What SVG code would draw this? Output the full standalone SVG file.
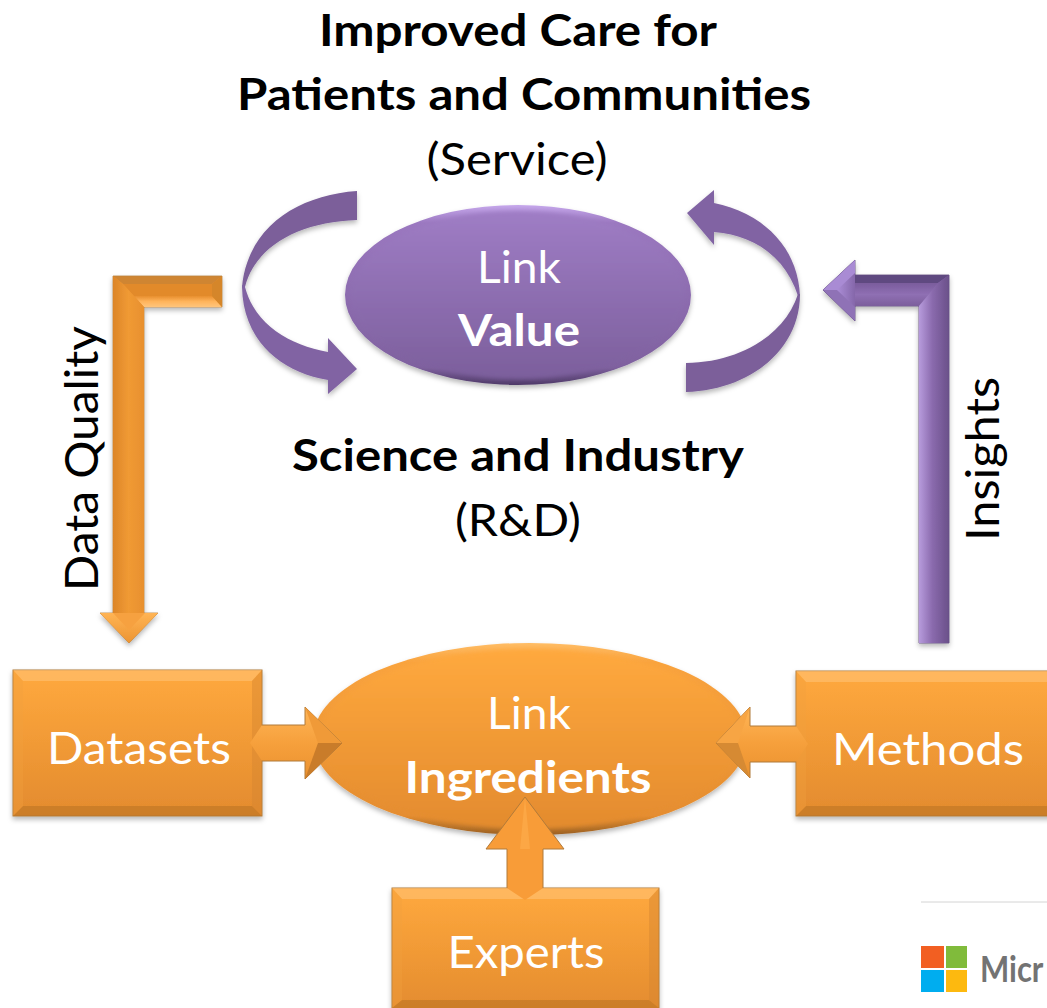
<svg xmlns="http://www.w3.org/2000/svg" width="1047" height="1008" viewBox="0 0 1047 1008">
<defs>
<linearGradient id="og" x1="0" y1="0" x2="0" y2="1"><stop offset="0" stop-color="#ffa93e"/><stop offset="1" stop-color="#e38b2e"/></linearGradient>
<linearGradient id="ogE" x1="0" y1="0" x2="0" y2="1"><stop offset="0" stop-color="#ffbd66"/><stop offset="0.1" stop-color="#f9a33e"/><stop offset="0.9" stop-color="#e58d30"/><stop offset="1" stop-color="#9a6024"/></linearGradient>
<linearGradient id="ogD" x1="0" y1="0" x2="1" y2="0"><stop offset="0" stop-color="#dc8528"/><stop offset="0.5" stop-color="#f09a34"/><stop offset="1" stop-color="#e8902e"/></linearGradient>
<linearGradient id="ogH" x1="0" y1="0" x2="0" y2="1"><stop offset="0" stop-color="#e88f2f"/><stop offset="0.5" stop-color="#ffb45c"/><stop offset="1" stop-color="#ffc57c"/></linearGradient>
<linearGradient id="ogA" x1="0" y1="0" x2="0" y2="1"><stop offset="0" stop-color="#ffb454"/><stop offset="1" stop-color="#ec9432"/></linearGradient>
<linearGradient id="ogS" x1="0" y1="0" x2="0" y2="1"><stop offset="0" stop-color="#ffb658"/><stop offset=".5" stop-color="#f6a03c"/><stop offset="1" stop-color="#ea912f"/></linearGradient>
<linearGradient id="pu" x1="0" y1="0" x2="0" y2="1"><stop offset="0" stop-color="#9f7dc5"/><stop offset="1" stop-color="#7c5f9c"/></linearGradient>
<linearGradient id="puE" x1="0" y1="0" x2="0" y2="1"><stop offset="0" stop-color="#c6a8ec"/><stop offset="0.1" stop-color="#9b78c0"/><stop offset="0.9" stop-color="#7f619f"/><stop offset="1" stop-color="#4f3a68"/></linearGradient>
<linearGradient id="puV" x1="0" y1="0" x2="1" y2="0"><stop offset="0" stop-color="#b79bdc"/><stop offset="0.45" stop-color="#8a6aad"/><stop offset="1" stop-color="#6a5089"/></linearGradient>
<linearGradient id="puH" x1="0" y1="0" x2="0" y2="1"><stop offset="0" stop-color="#7a5c9c"/><stop offset="0.5" stop-color="#8f6fb3"/><stop offset="1" stop-color="#7c5f9c"/></linearGradient>
<linearGradient id="puA" x1="0" y1="0" x2="1" y2="0"><stop offset="0" stop-color="#ab8dd6"/><stop offset="1" stop-color="#8567aa"/></linearGradient>
<filter id="sh" x="-20%" y="-20%" width="140%" height="140%"><feDropShadow dx="0" dy="3" stdDeviation="2.5" flood-color="#000" flood-opacity="0.28"/></filter>
<filter id="bl" x="-10%" y="-10%" width="120%" height="120%"><feGaussianBlur stdDeviation="2"/></filter>
</defs>
<style>
text{font-family:"Lato","Carlito","Liberation Sans",sans-serif}
.k{fill:#000;font-size:44px;text-anchor:middle}
.r{font-size:46px}
.b{font-weight:700}
.w{fill:#fff;font-size:44px;text-anchor:middle}
.ob{stroke:#b07a3a;stroke-width:1}
.lt{fill:#ffc275;opacity:.6}
.dk{fill:#b87225;opacity:.55}
.sr{fill:#d58530;opacity:.45}
.sd{fill:#f0a040;opacity:.35}
</style>

<g id="connectors">
<g id="ribbon-left" filter="url(#sh)">
<path d="M357 191C300 195 248 225 242 287C243 289 244 291 245 287C256 245 300 222 357 220Z" fill="#7b5f9a"/>
<path d="M242 287C243 340 280 372 328 380V394L357 369L328 338V352C290 345 255 325 245 287C244 284 242 284 242 287Z" fill="#8164a3"/>
</g>
<g id="ribbon-right" filter="url(#sh)">
<path d="M687 213L714 190V203C760 212 798 245 800 296L798 296C786 258 755 235 714 232V245Z" fill="#8164a3"/>
<path d="M798 294L800 294C800 350 750 390 686 392V363C740 362 785 335 798 294Z" fill="#7b5f9a"/>
</g>
<g id="arrow-data-quality" filter="url(#sh)">
<path d="M113 276H222V307H144V613H158L129 643L100 613H113Z" fill="#e9912f" stroke="#b58040" stroke-width=".8"/>
<path d="M113 276H222L212 284H123Z" fill="#c58234" opacity=".75"/>
<path d="M144 307H222L212 296H134Z" fill="url(#ogH)"/>
<path d="M134 296H212L212 284H123Z" fill="#e28a2c"/>
<path d="M113 276L123 284L134 296L144 307V613H113Z" fill="url(#ogD)"/>
<path d="M222 276V307L212 296V284Z" fill="#d58629"/>
<path d="M129 643L100 613H158Z" fill="url(#ogA)"/>
<path d="M129 630L113 613H145Z" fill="#f6a140"/>
</g>
<g id="arrow-insights" filter="url(#sh)">
<path d="M823 290L855 260V275H949V643H919V306H855V321Z" fill="#8668aa" stroke="#5b4478" stroke-width=".8"/>
<path d="M855 275H949L938 283H855Z" fill="#5f4880"/>
<path d="M855 283H938L919 306H855Z" fill="url(#puH)"/>
<path d="M919 306L938 283L949 275V643H919Z" fill="url(#puV)"/>
<path d="M823 290L855 260V290Z" fill="#a98bd4"/>
<path d="M823 290L855 321V290Z" fill="#8f72b6"/>
<path d="M837 290L855 273V307Z" fill="url(#puA)"/>
</g>
</g>

<g id="node-value">
<ellipse cx="518" cy="295" rx="173" ry="90" fill="url(#puE)" filter="url(#sh)"/>
<ellipse cx="518" cy="295" rx="167" ry="84" fill="url(#pu)" filter="url(#bl)"/>
<text class="w" x="519" y="283" textLength="84" lengthAdjust="spacingAndGlyphs">Link</text>
<text class="w b" x="519" y="346" textLength="122" lengthAdjust="spacingAndGlyphs">Value</text>
</g>

<g id="node-ingredients">
<ellipse cx="530" cy="739" rx="217" ry="96" fill="url(#ogE)" filter="url(#sh)"/>
<ellipse cx="530" cy="739" rx="211" ry="90" fill="url(#og)" filter="url(#bl)"/>
<text class="w" x="529" y="729" textLength="84" lengthAdjust="spacingAndGlyphs">Link</text>
<text class="w b" x="528" y="793" textLength="247" lengthAdjust="spacingAndGlyphs">Ingredients</text>
</g>

<g id="node-datasets">
<rect x="13" y="670" width="249" height="146" fill="url(#og)" stroke="#b07a3a" stroke-width="1" filter="url(#sh)"/>
<path d="M13 670H262L252 681H23Z" class="lt"/>
<path d="M13 816H262L252 806H23Z" class="dk"/>
<path d="M262 670V816L252 806V681Z" class="sr"/>
<path d="M13 670V816L23 806V681Z" class="sd"/>
<text class="w" x="139" y="764" textLength="184" lengthAdjust="spacingAndGlyphs">Datasets</text>
</g>

<g id="node-methods">
<rect x="796" y="671" width="262" height="145" fill="url(#og)" stroke="#b07a3a" stroke-width="1" filter="url(#sh)"/>
<path d="M796 671H1058L1048 682H806Z" class="lt"/>
<path d="M796 816H1058L1048 806H806Z" class="dk"/>
<path d="M796 671V816L806 806V682Z" class="sd"/>
<text class="w" x="928" y="765" textLength="192" lengthAdjust="spacingAndGlyphs">Methods</text>
</g>

<g id="node-experts">
<rect x="392" y="888" width="267" height="125" fill="url(#og)" stroke="#b07a3a" stroke-width="1" filter="url(#sh)"/>
<path d="M392 888H659L649 899H402Z" class="lt"/>
<path d="M392 1008H659L649 1000H402Z" class="dk"/>
<path d="M659 888V1008L649 1000V899Z" class="sr"/>
<path d="M392 888V1008L402 1000V899Z" class="sd"/>
<text class="w" x="526" y="968" textLength="157" lengthAdjust="spacingAndGlyphs">Experts</text>
</g>

<g id="small-arrows">
<g id="arrow-datasets">
<path d="M250 743L262 725H305V707L342 743L305 779V761H262Z" fill="url(#ogS)"/>
<path class="ob" fill="none" d="M262 725H305V707L342 743L305 779V761H262"/>
<path d="M305 707L342 743L318 743Z" fill="#f09a38"/>
<path d="M305 779L342 743L318 743Z" fill="#c97c2a"/>
</g>
<g id="arrow-methods">
<path d="M808 744L796 726H750V707L716 743L750 778V762H796Z" fill="url(#ogS)"/>
<path class="ob" fill="none" d="M796 726H750V707L716 743L750 778V762H796"/>
<path d="M750 707L716 743L738 743Z" fill="#f7a544"/>
<path d="M750 778L716 743L738 743Z" fill="#d68a33"/>
</g>
<g id="arrow-experts">
<path d="M525 797L564 849H543V888L525 900L507 888V849H486Z" fill="#f89c38"/>
<path class="ob" fill="none" d="M507 888V849H486L525 797L564 849H543V888"/>
<path d="M525 797L530 849H520Z" fill="#ffb152" opacity=".5"/>
</g>
</g>

<g id="labels">
<text class="k b" x="518" y="46" textLength="398" lengthAdjust="spacingAndGlyphs">Improved Care for</text>
<text class="k b" x="524" y="110" textLength="574" lengthAdjust="spacingAndGlyphs">Patients and Communities</text>
<text class="k" x="517" y="175" textLength="181" lengthAdjust="spacingAndGlyphs">(Service)</text>
<text class="k b" x="518" y="471" textLength="452" lengthAdjust="spacingAndGlyphs">Science and Industry</text>
<text class="k" x="518" y="536" textLength="126" lengthAdjust="spacingAndGlyphs">(R&amp;D)</text>
<text class="k r" transform="translate(98 458.5) rotate(-90)" textLength="265" lengthAdjust="spacingAndGlyphs">Data Quality</text>
<text class="k r" transform="translate(999 459) rotate(-90)" textLength="164" lengthAdjust="spacingAndGlyphs">Insights</text>
</g>

<g id="logo">
<line x1="921" y1="902" x2="1047" y2="902" stroke="#d4d4d4" stroke-width="1"/>
<rect x="921" y="946" width="23" height="22" fill="#f25f22"/>
<rect x="946" y="946" width="21" height="22" fill="#80bb3b"/>
<rect x="921" y="970" width="23" height="22" fill="#00adef"/>
<rect x="946" y="970" width="21" height="22" fill="#fdb90f"/>
<text transform="translate(980 982) scale(1 1.15)" font-size="31" font-weight="700" fill="#737373">Micr</text>
</g>
</svg>
